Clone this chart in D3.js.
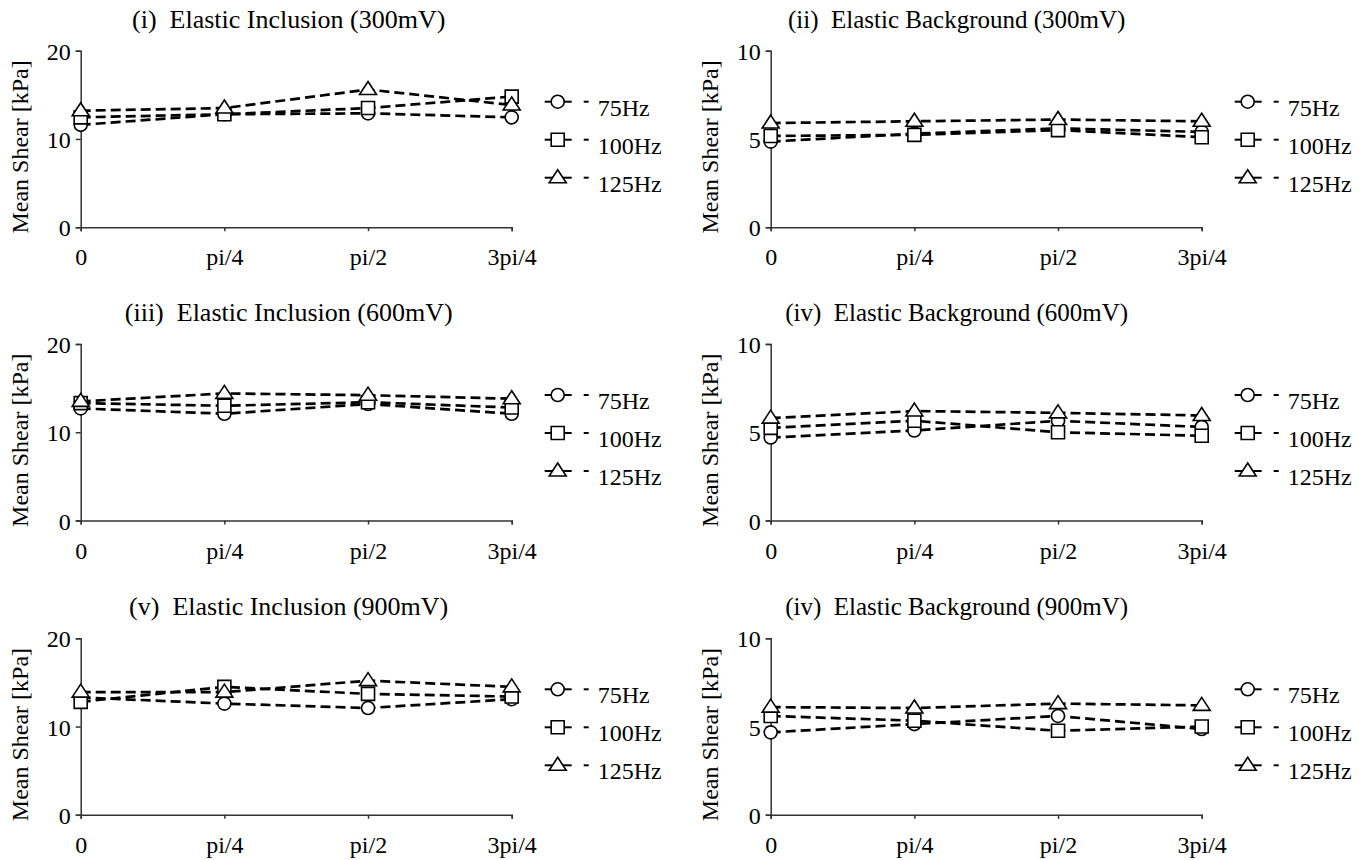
<!DOCTYPE html>
<html>
<head>
<meta charset="utf-8">
<script src="https://cdn.jsdelivr.net/npm/d3@7"></script>
<style>
  html, body { margin: 0; padding: 0; background: #fff; }
  svg { display: block; }
</style>
</head>
<body>
<svg id="chart" width="1372" height="860"></svg>
<script>
// ---- data ----
const categories = ["0", "pi/4", "pi/2", "3pi/4"];
const seriesNames = ["75Hz", "100Hz", "125Hz"];
const panelTitles = [
  "(i)  Elastic Inclusion (300mV)",
  "(ii)  Elastic Background (300mV)",
  "(iii)  Elastic Inclusion (600mV)",
  "(iv)  Elastic Background (600mV)",
  "(v)  Elastic Inclusion (900mV)",
  "(iv)  Elastic Background (900mV)"
];
const yAxisLabel = "Mean Shear [kPa]";
const inclusionTicks = [0, 10, 20];
const backgroundTicks = [0, 5, 10];

// (i) Elastic Inclusion 300mV
const incl300_75Hz  = [11.6, 12.8, 12.9, 12.45];
const incl300_100Hz = [12.45, 12.8, 13.5, 14.8];
const incl300_125Hz = [13.2, 13.5, 15.6, 13.85];
// (ii) Elastic Background 300mV
const back300_75Hz  = [4.85, 5.3, 5.6, 5.4];
const back300_100Hz = [5.17, 5.23, 5.5, 5.1];
const back300_125Hz = [5.9, 6.0, 6.1, 6.0];
// (iii) Elastic Inclusion 600mV
const incl600_75Hz  = [12.7, 12.1, 13.2, 12.1];
const incl600_100Hz = [13.3, 13.0, 13.4, 12.8];
const incl600_125Hz = [13.5, 14.4, 14.2, 13.8];
// (iv) Elastic Background 600mV
const back600_75Hz  = [4.7, 5.1, 5.65, 5.3];
const back600_100Hz = [5.25, 5.65, 5.0, 4.8];
const back600_125Hz = [5.8, 6.2, 6.1, 5.95];
// (v) Elastic Inclusion 900mV
const incl900_75Hz  = [13.3, 12.6, 12.1, 13.1];
const incl900_100Hz = [12.8, 14.5, 13.7, 13.4];
const incl900_125Hz = [13.9, 13.9, 15.2, 14.5];
// (vi) Elastic Background 900mV
const back900_75Hz  = [4.67, 5.14, 5.6, 4.86];
const back900_100Hz = [5.6, 5.33, 4.76, 5.0];
const back900_125Hz = [6.1, 6.05, 6.3, 6.2];

const panels = [
  { title: panelTitles[0], ticks: inclusionTicks,  series: [incl300_75Hz, incl300_100Hz, incl300_125Hz] },
  { title: panelTitles[1], ticks: backgroundTicks, series: [back300_75Hz, back300_100Hz, back300_125Hz] },
  { title: panelTitles[2], ticks: inclusionTicks,  series: [incl600_75Hz, incl600_100Hz, incl600_125Hz] },
  { title: panelTitles[3], ticks: backgroundTicks, series: [back600_75Hz, back600_100Hz, back600_125Hz] },
  { title: panelTitles[4], ticks: inclusionTicks,  series: [incl900_75Hz, incl900_100Hz, incl900_125Hz] },
  { title: panelTitles[5], ticks: backgroundTicks, series: [back900_75Hz, back900_100Hz, back900_125Hz] }
];

// ---- layout ----
const SERIF = '"Liberation Serif", "Times New Roman", serif';
const colLeft = [80.7, 770.7];
const rowTop = [50.7, 344, 638.3];
const plotW = 431;
const plotH = 176.5;

const markerPaths = [
  d3.symbol().type(d3.symbolCircle).size(Math.PI * 6.5 * 6.5)(),
  "M-6.5,-6.5L6.5,-6.5L6.5,6.5L-6.5,6.5Z",
  "M0,-8L8.5,5L-8.5,5Z"
];

const svg = d3.select("#chart");
svg.append("rect").attr("width", 1372).attr("height", 860).attr("fill", "#fff");

panels.forEach((p, i) => {
  const col = i % 2, row = Math.floor(i / 2);
  const left = colLeft[col], top = rowTop[row];
  const right = left + plotW, bottom = top + plotH;
  const g = svg.append("g");

  const x = d3.scalePoint().domain(categories).range([left, right]);
  const y = d3.scaleLinear().domain([0, d3.max(p.ticks)]).range([bottom, top]);

  // title
  g.append("text")
    .attr("x", col === 0 ? left + 208 : left + 186)
    .attr("y", top - 23)
    .attr("text-anchor", "middle")
    .style("font-family", SERIF)
    .style("font-size", col === 0 ? "26px" : "25px")
    .style("white-space", "pre")
    .attr("fill", "#000")
    .text(p.title);

  // axes
  const yAxis = g.append("g").attr("transform", `translate(${left},0)`)
    .call(d3.axisLeft(y).tickValues(p.ticks).tickSize(5).tickPadding(5).tickFormat(d3.format("d")));
  const xAxis = g.append("g").attr("transform", `translate(0,${bottom})`)
    .call(d3.axisBottom(x).tickSize(4).tickPadding(17));
  [yAxis, xAxis].forEach(a => {
    a.select(".domain").attr("stroke", "#333").attr("stroke-width", 1.5);
    a.selectAll(".tick line").attr("stroke", "#333").attr("stroke-width", 1.5);
    a.selectAll(".tick text")
      .style("font-family", SERIF)
      .style("font-size", "24px").attr("fill", "#000");
  });
  yAxis.selectAll(".tick text").attr("dy", "0.36em");

  // y label
  g.append("text")
    .attr("transform", `translate(${left - 53},${(top + bottom) / 2 + 8}) rotate(-90)`)
    .attr("text-anchor", "middle")
    .style("font-family", SERIF)
    .style("font-size", "24px")
    .attr("fill", "#000")
    .text(yAxisLabel);

  // lines
  const line = d3.line().x((d, j) => x(categories[j])).y(d => y(d));
  p.series.forEach(vals => {
    g.append("path").datum(vals)
      .attr("d", line)
      .attr("fill", "none")
      .attr("stroke", "#000")
      .attr("stroke-width", 2.7)
      .attr("stroke-dasharray", "10,5");
  });

  // markers
  p.series.forEach((vals, k) => {
    g.selectAll(null).data(vals).enter().append("path")
      .attr("d", markerPaths[k])
      .attr("transform", (d, j) => `translate(${x(categories[j])},${y(d)})`)
      .attr("fill", "#fff")
      .attr("stroke", "#000")
      .attr("stroke-width", 1.6);
  });

  // legend
  const legendOffsets = [51, 89, 127];
  seriesNames.forEach((name, k) => {
    const ly = top + legendOffsets[k];
    const lx = left + 464;
    g.append("line").attr("x1", lx).attr("x2", lx + 27).attr("y1", ly).attr("y2", ly)
      .attr("stroke", "#000").attr("stroke-width", 2);
    g.append("line").attr("x1", lx + 39).attr("x2", lx + 44).attr("y1", ly).attr("y2", ly)
      .attr("stroke", "#000").attr("stroke-width", 2);
    g.append("path").attr("d", markerPaths[k])
      .attr("transform", `translate(${lx + 13},${ly})`)
      .attr("fill", "#fff").attr("stroke", "#000").attr("stroke-width", 1.6);
    g.append("text").attr("x", lx + 53).attr("y", ly + 14)
      .style("font-family", SERIF)
      .style("font-size", "24px")
      .attr("fill", "#000")
      .text(name);
  });
});
</script>
</body>
</html>
